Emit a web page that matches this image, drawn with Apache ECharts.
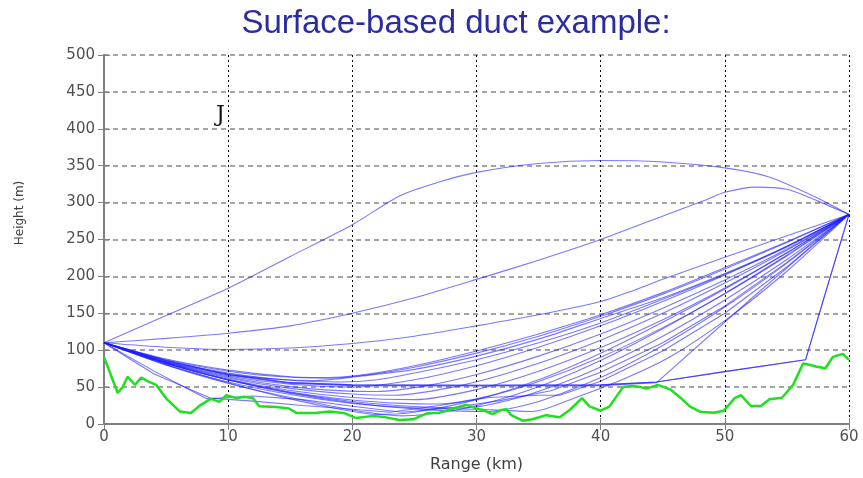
<!DOCTYPE html>
<html><head><meta charset="utf-8">
<script src="https://cdn.jsdelivr.net/npm/echarts@6/dist/echarts.min.js"></script>
<style>html,body{margin:0;padding:0;background:#fff}#c{width:863px;height:478px}</style>
</head><body><div id="c"></div>
<script>
const titleText = 'Surface-based duct example:';
const xName = 'Range (km)';
const yName = 'Height (m)';

const terrain = [[0,91],[1.1,42],[1.5,50],[1.9,64],[2.5,53],[3.0,63],[3.5,58],[4.2,53],[5.1,33],[6.1,17],[7.0,15],[7.8,26],[8.6,34],[9.3,30],[9.85,39],[10.65,35],[11.3,37],[12,35],[12.5,24],[13.9,23],[14.9,21],[15.5,15],[17,15],[18.2,17],[19.4,14.5],[20.3,8],[21.7,11],[22.7,9],[23.8,5.4],[24.9,6.4],[26,14.5],[27,15.3],[28.1,21],[29.2,26],[30,21],[30.5,19],[31.3,13.5],[32,19],[32.4,20],[32.8,12],[33.7,4.5],[34.5,6.4],[35.6,12],[36.7,9],[37.5,19],[38.5,35],[39.1,24],[40,18],[40.7,23.5],[41.8,50],[42.5,51.5],[43.2,50],[43.7,48],[44.6,53],[45.6,47],[46.4,36],[47.2,23.5],[48,16.7],[49.1,15.3],[49.9,18],[50.8,35],[51.3,39],[52.1,24.4],[52.9,24.4],[53.6,33.4],[54.6,35.6],[55.5,53],[56.3,82],[56.9,80],[57.4,77.6],[58.1,75.5],[58.7,91],[59.5,95],[60,87]];

const rayTop   = [[0,110],[5,147],[10,184],[15,227],[20,270],[23.8,309],[27,328],[30,341],[35,353],[40,357],[45,355],[50,347],[53.5,335],[57.5,306],[60,284]];
const raySecond= [[0,110],[5,116],[10,123],[15,133],[20,150],[25,171],[30,196],[35,222],[40,250],[45.5,285],[48.5,304],[50,314],[52.5,321],[55,318],[57.5,302],[60,284]];
const rayThird = [[0,110],[5,104],[10,101],[15,103],[20,109],[25,119],[30,133],[35,148],[40,166],[42.5,180],[45,196],[50,226],[55,255],[60,284]];
const rayT1 = [[0,110],[5,87],[10,71.5],[14,64.4],[18,62],[21,66],[25,77],[30,96],[35,119],[40,146],[45,176],[50,210],[55,246],[60,284]];
const rayT2 = [[0,110],[5,84.4],[10,67.6],[14,60.6],[17,59],[20,63.5],[25,74],[30,92],[35,115],[40,143],[45,171],[50,204],[55,241],[60,284]];
const rayT3 = [[0,110],[5,85.8],[10,68.9],[15,59.3],[19,57],[22,60],[25,69],[30,87],[35,110],[40,137],[45,169],[50,203],[55,240],[60,284]];
const rayT4 = [[0,110],[5,88],[10,73],[15,64],[18,63],[21,67],[25,79],[30,99],[35,122],[40,148],[45,178],[50,212],[55,247],[60,284]];
const rayL1 = [[0,110],[5,83.8],[10,65],[15,53.8],[20,50],[25,60],[30,79],[35,104],[40,133],[45,166],[50,202],[55,241],[60,284]];
const rayL2 = [[0,110],[5,83.4],[10,63.6],[15,50.7],[19,45.2],[22,44],[26,52],[30,67],[35,92],[40,122],[45,157],[50,195],[55,237],[60,284]];
const rayL3 = [[0,110],[5,83],[10,62.4],[15,48.3],[20,40.6],[23.5,39],[28,49.6],[32,66.5],[36,88],[40,113.5],[45,150],[50,191],[55,235.5],[60,284]];
const rayL4 = [[0,110],[5,82.3],[10,60.7],[15,45.3],[20,36],[25,33],[30,46.6],[35,71.4],[40,103.5],[45,141.4],[50,184.4],[55,232],[60,284]];
const rayL5 = [[0,110],[5,82.1],[10,59.9],[15,43.4],[20,32.6],[24,28],[27,27],[31,37.8],[35,57.6],[40,90.5],[45,130.6],[50,176.6],[55,227.7],[60,284]];
const rayL6 = [[0,110],[5,82.3],[10,59.8],[15,42.5],[20,30.5],[25,23.7],[29,22],[33,34],[37,56.3],[40,77.4],[45,119],[50,168],[55,223],[60,284]];
const rayL7 = [[0,110],[5,82.4],[10,59.7],[15,41.8],[20,28.7],[25,20.5],[31,17],[35,30.6],[40,63],[45,106.5],[50,158.5],[55,218],[60,284]];
const rayD1 = [[0,110],[5,81],[10,56],[15,34],[19,20],[22,13],[25,16],[30,33],[35,60],[40,96],[45,138],[50,183],[55,232],[60,284]];
const rayD2 = [[0,110],[5,80],[10,55],[15,36],[20,19],[24,11],[28,18],[32,34],[36,57],[40,86],[45,129],[50,177],[55,229],[60,284]];
const rayB1 = [[0,110],[5,80],[10,57],[15,40],[20,28],[25,22],[30,20],[34.5,17],[38,36],[42,62],[45.6,91],[50,140],[55,207],[60,284]];
const rayS1 = [[0,110],[4,72],[8.3,34],[12,38],[16,33],[20,24],[24,16],[28,22],[32,32],[36,45],[40,70],[45,110],[50,160],[55,219],[60,284]];
const rayS2 = [[0,110],[4,68],[8.6,35],[12,31],[16,25],[20,20],[23,16],[27,25],[31,36],[35,39],[36.7,39],[40,58],[45,99],[50,150],[55,213],[60,284]];
const rayH1 = [[0,110],[5,85],[10,66],[15,55],[20,52],[30,51.5],[40,52],[44.5,56],[52,168],[60,284]];
const rayH2 = [[0,110],[5,86],[10,67],[15,56],[20,53],[30,52.5],[40,53],[44.5,57],[50,71],[56.5,87],[58.2,183],[60,284]];

const smoothRays = [rayTop, raySecond, rayThird, rayT1, rayT2, rayT3, rayT4, rayL1, rayL2, rayL3, rayL4, rayL5, rayL6, rayL7, rayD1, rayD2, rayB1];
const sharpRays = [rayS1, rayS2, rayH1, rayH2, rayH2];

const chart = echarts.init(document.getElementById('c'), null, {renderer: 'canvas'});
const labelStyle = {fontFamily: 'DejaVu Sans', fontSize: 15, color: '#505050'};
const rayStyle = {color: 'rgba(30,30,255,0.6)', width: 1.1};
const series = [];
smoothRays.forEach(r => series.push({type: 'line', data: r, showSymbol: false, symbol: 'none', smooth: 0.25, lineStyle: rayStyle, silent: true, z: 2}));
sharpRays.forEach(r => series.push({type: 'line', data: r, showSymbol: false, symbol: 'none', smooth: false, lineStyle: rayStyle, silent: true, z: 2}));
series.push({type: 'line', data: terrain, showSymbol: false, symbol: 'none', lineStyle: {color: '#1ee01e', width: 2.5}, silent: true, z: 3});

const borderAxis = {
  axisLine: {show: true, lineStyle: {color: '#808080', width: 2}},
  axisTick: {show: true, inside: true, length: 6, lineStyle: {color: '#808080'}},
  axisLabel: {show: false}, splitLine: {show: false}
};

chart.setOption({
  animation: false,
  backgroundColor: '#fff',
  title: {
    text: titleText, left: 451, top: 2, textAlign: 'center',
    textStyle: {fontFamily: 'Liberation Sans', fontSize: 33, fontWeight: 'normal', color: '#2c2ca0'}
  },
  grid: {left: 104, right: 14, top: 55, bottom: 54, show: false},
  xAxis: [{
    type: 'value', min: 0, max: 60, interval: 10, position: 'bottom',
    name: xName, nameLocation: 'middle', nameGap: 33,
    nameTextStyle: {fontFamily: 'DejaVu Sans', fontSize: 16, color: '#404040'},
    axisLine: {show: true, lineStyle: {color: '#808080', width: 2}},
    axisTick: {show: true, inside: true, length: 6, lineStyle: {color: '#808080'}},
    axisLabel: Object.assign({margin: 6}, labelStyle),
    splitLine: {show: true, lineStyle: {color: '#000', type: [2, 3], width: 1}}
  }, Object.assign({type: 'value', min: 0, max: 60, interval: 10, position: 'top'}, borderAxis)],
  yAxis: [{
    type: 'value', min: 0, max: 500, interval: 50, position: 'left',
    axisLine: {show: true, lineStyle: {color: '#808080', width: 2}},
    axisTick: {show: true, inside: true, length: 6, lineStyle: {color: '#808080'}},
    axisLabel: Object.assign({margin: 9}, labelStyle),
    splitLine: {show: true, lineStyle: {color: '#a4a4a4', type: [5, 4], width: 2}}
  }, Object.assign({type: 'value', min: 0, max: 500, interval: 50, position: 'right'}, borderAxis)],
  graphic: [{
    type: 'text', x: 20, y: 213, rotation: Math.PI / 2,
    style: {text: yName, font: '12px "DejaVu Sans"', fill: '#404040', align: 'center', verticalAlign: 'middle', textAlign: 'center', textVerticalAlign: 'middle'}
  }, {
    type: 'text', left: 216, top: 104,
    style: {text: 'J', font: '22px "DejaVu Serif"', fill: '#111'}
  }],
  series: series
});
</script>
</body></html>
